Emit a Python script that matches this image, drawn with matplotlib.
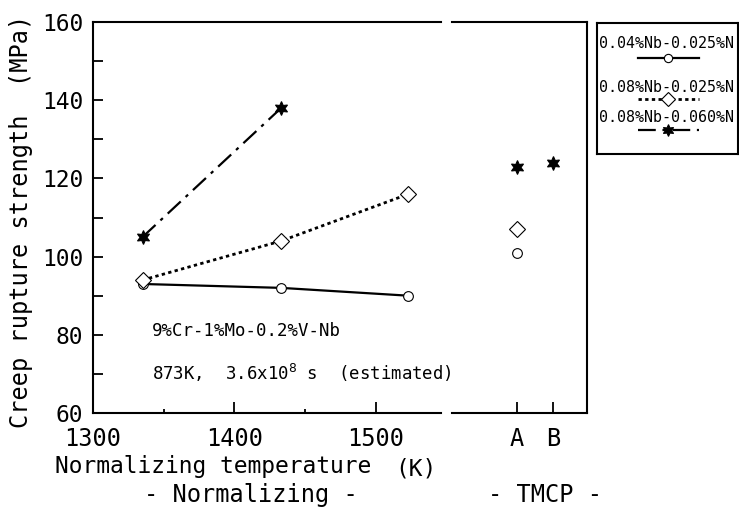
import matplotlib
matplotlib.use("Agg")
from matplotlib import pyplot as plt
from matplotlib.ticker import MultipleLocator

plt.rcParams['font.family'] = ['DejaVu Sans Mono']
plt.rcParams['mathtext.fontset'] = 'dejavusans'

# normalizing temperature (K) and creep rupture strength (MPa)
temp_nb04_n025 = [1335, 1433, 1523]
str_nb04_n025 = [93, 92, 90]
temp_nb08_n025 = [1335, 1433, 1523]
str_nb08_n025 = [94, 104, 116]
temp_nb08_n060 = [1335, 1433]
str_nb08_n060 = [105, 138]

# TMCP steels A and B
tmcp_labels = ["A", "B"]
tmcp_pos = [1, 2]
tmcp_nb04_n025 = [101, None]
tmcp_nb08_n025 = [107, None]
tmcp_nb08_n060 = [123, 124]

legend_labels = ["0.04%Nb-0.025%N", "0.08%Nb-0.025%N", "0.08%Nb-0.060%N"]

star = (6, 1, 0)
styles = [
    dict(color="black", lw=1.6, ls="-", marker="o", ms=7, mfc="white", mec="black", mew=0.8),
    dict(color="black", lw=2.0, ls=(0, (1.2, 1.2)), marker="D", ms=8, mfc="white", mec="black", mew=0.8),
    dict(color="black", lw=1.6, ls=(0, (8, 3, 1.5, 3)), marker=star, ms=10, mfc="black", mec="black", mew=0.8),
]

fig = plt.figure(figsize=(7.39, 5.12), dpi=100)
W, H = 739, 512


def px_axes(x0, y0, x1, y1):
    return fig.add_axes([x0 / W, 1 - y1 / H, (x1 - x0) / W, (y1 - y0) / H])


ax = px_axes(93, 22, 441, 413)
ax2 = px_axes(452, 22, 587, 413)

ax.plot(temp_nb04_n025, str_nb04_n025, **styles[0])
ax.plot(temp_nb08_n025, str_nb08_n025, **styles[1])
ax.plot(temp_nb08_n060, str_nb08_n060, **styles[2])

for vals, st in zip([tmcp_nb04_n025, tmcp_nb08_n025, tmcp_nb08_n060], styles):
    xs = [p for p, v in zip(tmcp_pos, vals) if v is not None]
    ys = [v for v in vals if v is not None]
    s = dict(st)
    s["ls"] = "none"
    ax2.plot(xs, ys, **s)

for a in (ax, ax2):
    a.set_ylim(60, 160)
    for sp in a.spines.values():
        sp.set_linewidth(1.5)

ax.set_xlim(1300, 1546)
ax.spines['right'].set_visible(False)
ax.xaxis.set_major_locator(MultipleLocator(100))
ax.xaxis.set_minor_locator(MultipleLocator(50))
ax.yaxis.set_major_locator(MultipleLocator(20))
ax.yaxis.set_minor_locator(MultipleLocator(10))
ax.tick_params(axis='both', which='both', direction='in', width=1.3)
ax.tick_params(axis='x', which='major', length=8, labelsize=17, pad=10)
ax.tick_params(axis='x', which='minor', length=3)
ax.tick_params(axis='y', which='both', length=7, labelsize=16.5, pad=7)
ax.tick_params(top=False, right=False, which='both')

ax2.set_xlim(-0.806, 2.944)
ax2.spines['left'].set_visible(False)
ax2.set_xticks(tmcp_pos)
ax2.set_xticklabels(tmcp_labels)
ax2.set_yticks([])
ax2.tick_params(axis='x', direction='in', length=8, width=1.3, labelsize=17, pad=10)

ax.set_ylabel("Creep rupture strength  (MPa)", fontsize=17, labelpad=2)
ax.yaxis.set_label_coords(-0.172, 0.49)

fig.text(55 / W, 1 - 466 / H, "Normalizing temperature", fontsize=16.5, va='center', ha='left')
fig.text(395 / W, 1 - 469 / H, "(K)", fontsize=16.5, va='center', ha='left')
fig.text(251 / W, 1 - 495 / H, "- Normalizing -", fontsize=17, va='center', ha='center')
fig.text(545 / W, 1 - 495 / H, "- TMCP -", fontsize=17, va='center', ha='center')

fig.text(152 / W, 1 - 331 / H, "9%Cr-1%Mo-0.2%V-Nb", fontsize=12.5, va='center', ha='left')
fig.text(152 / W, 1 - 373 / H, "873K,  3.6x10$^{8}$ s  (estimated)", fontsize=12.5,
         va='center', ha='left')

# legend box drawn by hand: label above the line sample
lg = px_axes(597, 23, 738, 154)
lg.set_xlim(0, 1)
lg.set_ylim(1, 0)
lg.set_xticks([])
lg.set_yticks([])
for sp in lg.spines.values():
    sp.set_linewidth(1.5)
text_y = [0.16, 0.49, 0.72]
line_y = [0.27, 0.58, 0.82]
for lab, ty, ly, st in zip(legend_labels, text_y, line_y, styles):
    lg.text(0.015, ty, lab, fontsize=10.8, va='center', ha='left')
    s = dict(st)
    s["markevery"] = [1]
    s["ms"] = st["ms"] * 0.85
    lg.plot([0.29, 0.505, 0.72], [ly, ly, ly], **s)

fig.savefig("out.png", dpi=100)
